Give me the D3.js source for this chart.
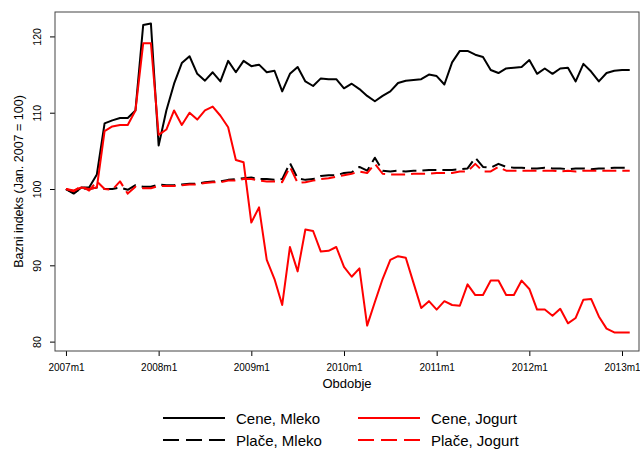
<!DOCTYPE html>
<html lang="sl">
<head>
<meta charset="UTF-8">
<title>Bazni indeks</title>
<script src="https://d3js.org/d3.v7.min.js"></script>
<style>
  body { margin: 0; background: #fff; font-family: "Liberation Sans", Arial, sans-serif; }
  text { fill: #000; }
</style>
</head>
<body>
<svg width="640" height="451"></svg>
<script>
// mesečni podatki 2007m1 .. 2013m2
const tickLabels = ["2007m1", "2008m1", "2009m1", "2010m1", "2011m1", "2012m1", "2013m1"];
const yTicks = [80, 90, 100, 110, 120];

const ceneMleko = [
  100.0, 99.4, 100.2, 100.2, 101.9, 108.6, 109.0, 109.3, 109.3, 110.3,
  121.5, 121.7, 105.7, 110.3, 113.8, 116.5, 117.4, 115.1, 114.2, 115.3,
  114.1, 116.8, 115.3, 116.8, 116.1, 116.3, 115.3, 115.5, 112.8, 115.1,
  116.0, 114.1, 113.5, 114.5, 114.4, 114.4, 113.2, 113.8, 113.1, 112.2,
  111.5, 112.2, 112.8, 113.9, 114.2, 114.3, 114.4, 115.0, 114.8, 113.7,
  116.6, 118.1, 118.1, 117.6, 117.3, 115.6, 115.2, 115.8, 115.9, 116.0,
  116.9, 115.1, 115.8, 115.1, 115.8, 115.9, 114.1, 116.4, 115.4, 114.1,
  115.2, 115.5, 115.6, 115.6
];
const placeMleko = [
  100.0, 99.5, 100.1, 100.0, 100.2, 100.0, 100.0, 100.2, 99.9, 100.5,
  100.3, 100.3, 100.6, 100.5, 100.5, 100.6, 100.7, 100.7, 100.9, 101.0,
  101.0, 101.2, 101.3, 101.4, 101.5, 101.3, 101.3, 101.2, 101.3, 103.4,
  101.4, 101.2, 101.3, 101.7, 101.8, 101.8, 102.1, 102.2, 102.9, 102.4,
  104.1, 102.4, 102.3, 102.4, 102.3, 102.4, 102.4, 102.5, 102.5, 102.5,
  102.5, 102.6, 102.7, 104.1, 102.9, 102.8, 103.3, 102.9, 102.8, 102.8,
  102.7, 102.7, 102.8, 102.7, 102.7, 102.6, 102.7, 102.7, 102.6, 102.7,
  102.7, 102.8, 102.8, 102.8
];
const ceneJogurt = [
  100.0, 99.8, 100.2, 100.0, 100.2, 107.6, 108.2, 108.4, 108.4, 110.3,
  119.1, 119.1, 107.1, 107.8, 110.3, 108.4, 110.0, 109.1, 110.3, 110.8,
  109.6, 108.1, 103.8, 103.5, 95.6, 97.6, 90.7, 88.2, 84.8, 92.4,
  89.2, 94.7, 94.5, 91.8, 91.9, 92.4, 89.8, 88.5, 89.6, 82.1,
  85.2, 88.2, 90.7, 91.2, 91.0, 87.7, 84.4, 85.3, 84.2, 85.3,
  84.8, 84.7, 87.5, 86.1, 86.1, 88.0, 88.0, 86.1, 86.1, 88.0,
  86.9, 84.2, 84.2, 83.4, 84.3, 82.4, 83.1, 85.5, 85.6, 83.3,
  81.7, 81.2, 81.2, 81.2
];
const placeJogurt = [
  100.0, 99.7, 100.4, 99.8, 101.0, 100.0, 99.9, 101.0, 99.4, 100.3,
  100.1, 100.1, 100.4, 100.4, 100.4, 100.5, 100.6, 100.6, 100.8, 100.9,
  100.9, 101.1, 101.1, 101.3, 101.3, 101.1, 101.0, 101.0, 100.9, 102.9,
  100.8, 100.9, 101.1, 101.3, 101.4, 101.6, 101.8, 102.0, 102.3, 102.1,
  103.3, 102.0, 101.9, 101.9, 101.9, 102.0, 102.0, 102.0, 102.1, 102.1,
  102.1, 102.3, 102.3, 103.3, 102.3, 102.3, 102.9, 102.4, 102.4, 102.4,
  102.4, 102.4, 102.4, 102.4, 102.3, 102.4, 102.3, 102.4, 102.4, 102.4,
  102.4, 102.4, 102.4, 102.4
];

const series = [
  { name: "Cene, Mleko", values: ceneMleko, color: "#000", dash: null },
  { name: "Plače, Mleko", values: placeMleko, color: "#000", dash: "14,6" },
  { name: "Cene, Jogurt", values: ceneJogurt, color: "#ff0000", dash: null },
  { name: "Plače, Jogurt", values: placeJogurt, color: "#ff0000", dash: "14,6" }
];

const box = { left: 55, right: 639, top: 12, bottom: 351 };

const svg = d3.select("svg");

const x = d3.scaleLinear().domain([-1.42, 74.2]).range([box.left, box.right]);
const y = d3.scaleLinear().domain([78.77, 123.2]).range([box.bottom, box.top]);

// osi
const yAxis = svg.append("g")
  .attr("transform", `translate(${box.left},0)`)
  .call(d3.axisLeft(y).tickValues(yTicks).tickSize(5).tickPadding(0));
yAxis.select(".domain").remove();
yAxis.selectAll("line").attr("stroke", "#000");
yAxis.selectAll("text")
  .attr("x", 0).attr("dy", null)
  .attr("transform", "translate(-14,0) rotate(-90)")
  .attr("text-anchor", "middle")
  .style("font-family", "Liberation Sans, Arial, sans-serif")
  .style("font-size", "10.5px");

const xAxis = svg.append("g")
  .attr("transform", `translate(0,${box.bottom})`)
  .call(d3.axisBottom(x).tickValues(tickLabels.map((d, i) => i * 12))
    .tickFormat((d, i) => tickLabels[i]).tickSize(5));
xAxis.select(".domain").remove();
xAxis.selectAll("line").attr("stroke", "#000");
xAxis.selectAll("text")
  .attr("y", 20).attr("dy", null)
  .style("font-family", "Liberation Sans, Arial, sans-serif")
  .style("font-size", "10px");

// črte
const line = d3.line()
  .x((d, i) => x(i))
  .y(d => y(d));

series.forEach(s => {
  svg.append("path")
    .datum(s.values)
    .attr("fill", "none")
    .attr("stroke", s.color)
    .attr("stroke-width", 2)
    .attr("stroke-linejoin", "round")
    .attr("stroke-dasharray", s.dash)
    .attr("d", line);
});

// okvir
svg.append("rect")
  .attr("x", box.left).attr("y", box.top)
  .attr("width", box.right - box.left).attr("height", box.bottom - box.top)
  .attr("fill", "none").attr("stroke", "#444").attr("stroke-width", 1);

// naslovi osi
svg.append("text")
  .attr("x", (box.left + box.right) / 2)
  .attr("y", 388)
  .attr("text-anchor", "middle")
  .style("font-size", "13px")
  .text("Obdobje");

svg.append("text")
  .attr("transform", `translate(23,${(box.top + box.bottom) / 2}) rotate(-90)`)
  .attr("text-anchor", "middle")
  .style("font-size", "12.5px")
  .text("Bazni indeks (Jan. 2007 = 100)");

// legenda
const legendPos = [[163, 418], [163, 440], [358, 418], [358, 440]];
series.forEach((s, i) => {
  const [lx, ly] = legendPos[i];
  const g = svg.append("g").attr("transform", `translate(${lx},${ly})`);
  g.append("line")
    .attr("x1", 0).attr("x2", 62).attr("y1", 0).attr("y2", 0)
    .attr("stroke", s.color).attr("stroke-width", 2)
    .attr("stroke-dasharray", s.dash ? "16,7" : null);
  g.append("text")
    .attr("x", 73).attr("y", 5.5)
    .style("font-size", "15px")
    .text(s.name);
});
</script>
</body>
</html>
